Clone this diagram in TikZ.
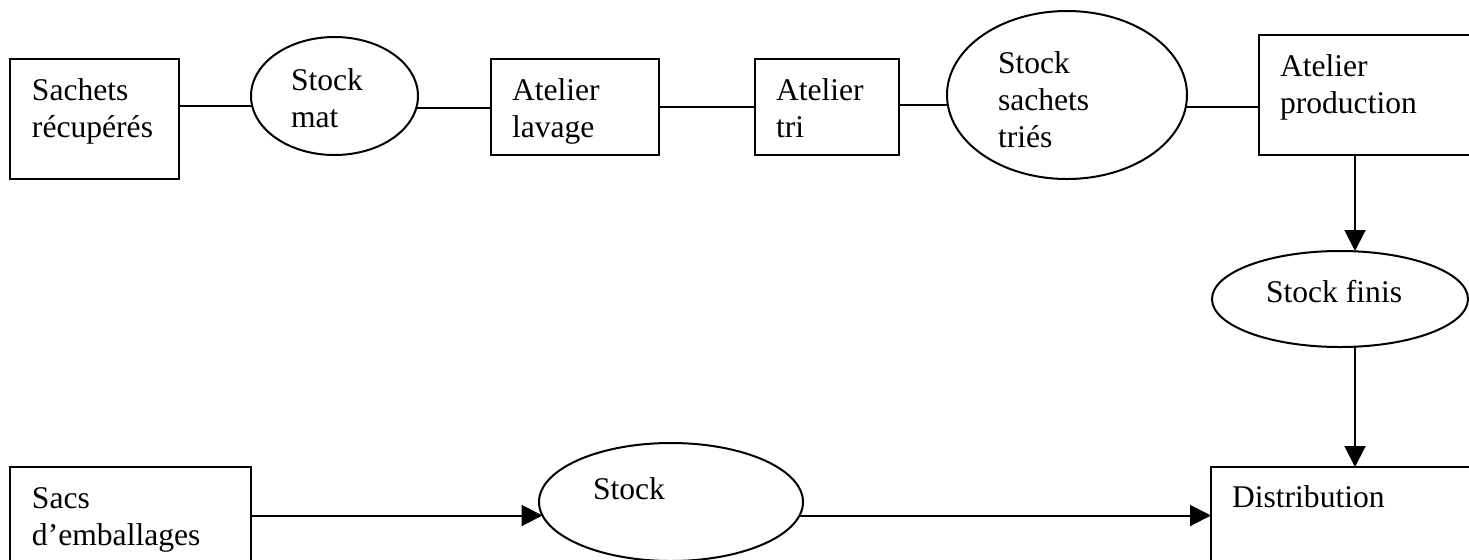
\documentclass[tikz,border=0pt]{standalone}
\usepackage{fontspec}
\setmainfont{Liberation Serif}
\usetikzlibrary{arrows.meta,shapes.geometric}
\newcommand\mlines[1]{\begin{tabular}[t]{@{}l@{}}#1\end{tabular}}
\begin{document}
\begin{tikzpicture}[x=0.5pt,y=-0.5pt,
  every node/.style={inner sep=0pt,outer sep=0pt},
  box/.style={draw,line width=1pt,rectangle},
  oval/.style={draw,line width=1pt,ellipse},
  lbl/.style={anchor=base west,font=\fontsize{15.8pt}{18.5pt}\selectfont},
  conn/.style={line width=1pt},
  arr/.style={line width=1pt,-{Triangle[length=10.5pt,width=10.5pt]}}]
\useasboundingbox (0,0) rectangle (1469,559);
\clip (0,0) rectangle (1469,559);
% shapes
\node[box,minimum width=84.5pt,minimum height=60pt] (sach) at (94.5,119) {};
\node[oval,minimum width=83.5pt,minimum height=59pt] (smat) at (334.5,96) {};
\node[box,minimum width=84pt,minimum height=48pt] (lav) at (575,107) {};
\node[box,minimum width=72pt,minimum height=48pt] (tri) at (827,107) {};
\node[oval,minimum width=120pt,minimum height=84pt] (stri) at (1067,95) {};
\node[box,minimum width=115.5pt,minimum height=60pt] (prod) at (1374.5,95) {};
\node[oval,minimum width=128pt,minimum height=48pt] (fin) at (1340,299) {};
\node[box,minimum width=120.5pt,minimum height=66.5pt] (sacs) at (130.5,533.5) {};
\node[oval,minimum width=132pt,minimum height=59pt] (stk) at (671,502) {};
\node[box,minimum width=139.5pt,minimum height=66.5pt] (dist) at (1350.5,533.5) {};
\coordinate (col) at (1355,0);
% texts
\node[lbl] (tsach) at (32,100) {\mlines{Sachets\\récupérés}};
\node[lbl] (tsmat) at (291,90) {\mlines{Stock\\mat}};
\node[lbl] (tlav) at (512,100) {\mlines{Atelier\\lavage}};
\node[lbl] (ttri) at (776,100) {\mlines{Atelier\\tri}};
\node[lbl] (tstri) at (998,73) {\mlines{Stock\\sachets\\triés}};
\node[lbl] (tprod) at (1280,76) {\mlines{Atelier\\production}};
\node[lbl] (tfin) at (1266,302) {Stock finis};
\node[lbl] (tsacs) at (32,508) {\mlines{Sacs\\d’emballages}};
\node[lbl] (tstk) at (593,499) {Stock};
\node[lbl] (tdist) at (1232,507) {Distribution};
% connectors
\draw[conn] (sach.east |- smat.187.6) -- (smat.187.6);
\draw[conn] (smat.352.4) -- (lav.west |- smat.352.4);
\draw[conn] (lav.east) -- (tri.west);
\draw[conn] (tri.east |- stri.185.8) -- (stri.185.8);
\draw[conn] (stri.354.2) -- (prod.west |- stri.354.2);
\draw[arr] (prod.south -| col) -- (fin.north -| col);
\draw[arr] (fin.south -| col) -- (dist.north -| col);
\draw[arr] (sacs.east |- stk.186) -- (stk.186);
\draw[arr] (stk.354) -- (dist.west |- stk.354);
\end{tikzpicture}
\end{document}
